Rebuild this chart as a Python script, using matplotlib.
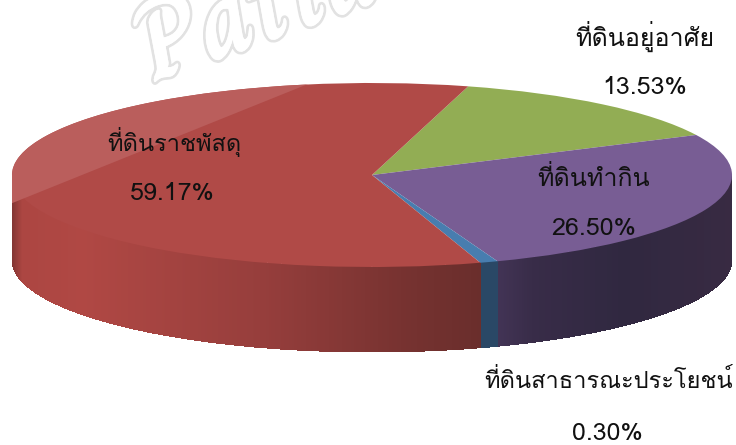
import matplotlib
matplotlib.use("Agg")
import matplotlib.pyplot as plt
import matplotlib.patheffects as pe
from matplotlib.patches import Polygon
import numpy as np

plt.rcParams['font.family'] = ['Loma', 'Noto Sans Thai', 'DejaVu Sans']

W, H = 736, 445

names = ["ที่ดินอยู่อาศัย", "ที่ดินทำกิน", "ที่ดินสาธารณะประโยชน์", "ที่ดินราชพัสดุ"]
shares = [13.53, 26.50, 0.80, 59.17]
pct_labels = ["13.53%", "26.50%", "0.30%", "59.17%"]
top_colors = ["#92AD54", "#785D94", "#487DAF", "#B04A47"]
name_xy = [(645, 36), (594, 179), (609, 381), (174, 142)]
name_size = [18, 18, 17, 17]
pct_xy = [(645, 88), (594, 229), (607, 434), (172, 193)]

# side wall shading, x position (-1..1) -> colour
wall_x = [-1.0, -0.97, -0.80, -0.30, 0.10, 0.30]
wall_red = [(128, 52, 50), (172, 70, 66), (176, 72, 68), (150, 62, 60), (118, 50, 48), (106, 46, 44)]
wall_x2 = [0.30, 0.45, 0.70, 1.0]
wall_purple = [(72, 56, 92), (56, 44, 72), (48, 40, 64), (56, 42, 66)]
wall_blue = (42, 72, 102)

# ellipse of the top face and wall height, in pixels
cx, cy, rx, ry, depth = 372, 175, 360, 92, 85
start = 74.5


def px(x, y):
    return (x - cx) / rx, (cy - y) / ry


fig = plt.figure(figsize=(W / 100, H / 100), dpi=100)
ax = fig.add_axes([0, 0, 1, 1])

wedges, _ = ax.pie(shares, colors=top_colors, startangle=start, counterclock=False,
                   radius=1, wedgeprops={"linewidth": 0})
for w in wedges:
    w.set_zorder(5)
ax.set_aspect("auto")
ax.set_xlim(px(0, 0)[0], px(W, 0)[0])
ax.set_ylim(px(0, H)[1], px(0, 0)[1])
ax.axis("off")

# walls, front half of the rim only
d = depth / ry
edges = start - np.cumsum([0] + shares) * 3.6
for i in range(len(shares)):
    a0, a1 = edges[i + 1], edges[i]
    # bring the slice to the front half (-180..0)
    for shift in (0, 360):
        lo, hi = max(a0 + shift, -180), min(a1 + shift, 0)
        if hi <= lo:
            continue
        t = np.radians(np.arange(lo, hi, 0.25).tolist() + [hi])
        for k in range(len(t) - 1):
            x0, x1 = np.cos(t[k]), np.cos(t[k + 1])
            y0, y1 = np.sin(t[k]), np.sin(t[k + 1])
            xm = (x0 + x1) / 2
            if i == 3:
                c = [np.interp(xm, wall_x, [s[j] for s in wall_red]) / 255 for j in range(3)]
            elif i == 1:
                c = [np.interp(xm, wall_x2, [s[j] for s in wall_purple]) / 255 for j in range(3)]
            else:
                c = [v / 255 for v in wall_blue]
            ax.fill([x0, x1, x1, x0], [y0, y1, y1 - d, y0 - d], color=c, lw=0,
                    antialiased=False, zorder=3)

# lighter sheen over the back left, runs over the left end of the wall too
arc_up = np.radians(np.linspace(70, 180, 120))
arc_low = np.radians(np.linspace(180, 250, 80))
outline = np.vstack([np.column_stack([np.cos(arc_up), np.sin(arc_up)]),
                     np.column_stack([np.cos(arc_low), np.sin(arc_low) - d])])
clip = Polygon(outline, closed=True, transform=ax.transData)
sheen_x, sheen_y = zip(*[px(0, 208), px(318, 80), px(0, 60)])
sheen = ax.fill(sheen_x, sheen_y, color="#BA5E5C", lw=0, zorder=6)[0]
sheen.set_clip_path(clip)

for name, size, pct, nxy, pxy in zip(names, name_size, pct_labels, name_xy, pct_xy):
    fig.text(nxy[0] / W, 1 - nxy[1] / H, name, fontsize=size, color="#111111",
             ha="center", va="center", zorder=10)
    fig.text(pxy[0] / W, 1 - pxy[1] / H, pct, fontsize=18, color="#111111",
             ha="center", va="center", zorder=10)

# watermark
fig.text(150 / W, 1 - 84 / H, "Patta", fontsize=82, family="Charm", weight="bold",
         rotation=20, rotation_mode="anchor", color="white", ha="left", va="baseline", zorder=1,
         path_effects=[pe.withStroke(linewidth=4, foreground="#E2E2E2"), pe.Normal()])

fig.savefig("out.png", dpi=100)
